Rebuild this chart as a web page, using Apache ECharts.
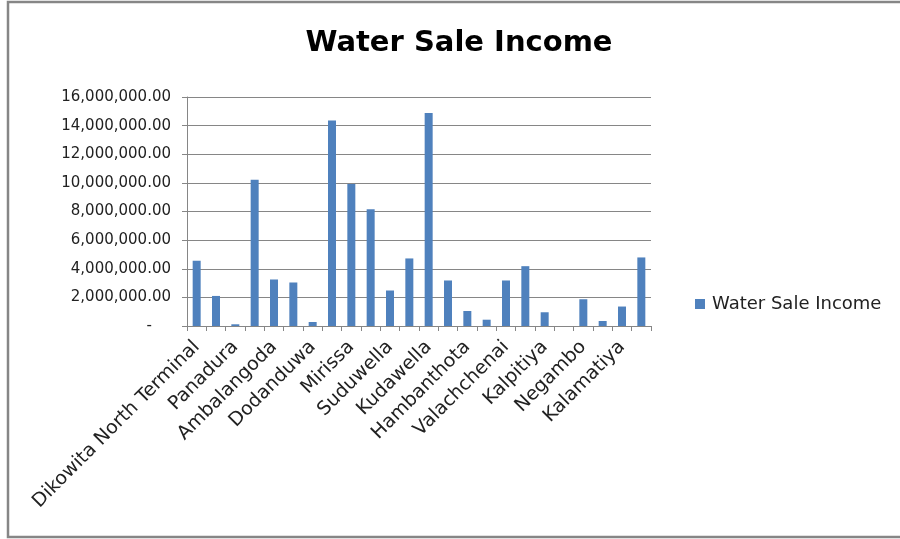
<!DOCTYPE html>
<html>
<head>
<meta charset="utf-8">
<script src="https://cdn.jsdelivr.net/npm/echarts@6/dist/echarts.min.js"></script>
<style>
  html, body { margin: 0; padding: 0; background: #fff; }
  #chart { width: 900px; height: 539px; }
</style>
</head>
<body>
<div id="chart"></div>
<script>
// harbours, only every other name is shown on the axis
const harbours = [
  'Dikowita North Terminal', 'Mutwal', 'Panadura', 'Beruwala',
  'Ambalangoda', 'Hikkaduwa', 'Dodanduwa', 'Galle',
  'Mirissa', 'Puranawella', 'Suduwella', 'Tangalle',
  'Kudawella', 'Nilwella', 'Hambanthota', 'Kirinda',
  'Valachchenai', 'Cod Bay', 'Kalpitiya', 'Chilaw',
  'Negambo', 'Beruwala North', 'Kalamatiya', 'Oluvil',
]
const income = [
  4560000, 2100000, 120000, 10210000,
  3250000, 3040000, 280000, 14350000,
  9930000, 8150000, 2480000, 4720000,
  14880000, 3180000, 1050000, 440000,
  3180000, 4180000, 960000, 0,
  1870000, 350000, 1360000, 4790000,
]
const yTicks = [0, 2000000, 4000000, 6000000, 8000000, 10000000, 12000000, 14000000, 16000000]

// accounting style: zero shows as a dash set in from the right
function money(v) {
  if (v === 0) return '-    '
  return v.toLocaleString('en-US', { minimumFractionDigits: 2, maximumFractionDigits: 2 })
}

const chart = echarts.init(document.getElementById('chart'))
const font = 'DejaVu Sans'

chart.setOption({
  animation: false,
  backgroundColor: '#fff',
  title: {
    text: 'Water Sale Income',
    left: 459,
    textAlign: 'center',
    top: 29,
    padding: 0,
    textStyle: { fontFamily: font, fontWeight: 'bold', fontSize: 29, color: '#000' },
  },
  legend: {
    left: 695,
    top: 295,
    padding: 0,
    itemWidth: 10,
    itemHeight: 10,
    itemGap: 6,
    icon: 'rect',
    itemStyle: { borderWidth: 0 },
    textStyle: { fontFamily: font, fontSize: 18, color: '#222', padding: [0, 0, 0, 2] },
    data: ['Water Sale Income'],
  },
  grid: { left: 187, right: 249, top: 97, bottom: 213, containLabel: false },
  xAxis: {
    type: 'category',
    data: harbours,
    boundaryGap: true,
    axisLine: { lineStyle: { color: '#868686', width: 1 } },
    axisTick: { show: true, interval: 0, length: 5, lineStyle: { color: '#868686' } },
    axisLabel: {
      interval: 1,
      rotate: 45,
      margin: 18,
      fontFamily: font,
      fontSize: 19,
      color: '#222',
    },
  },
  yAxis: {
    type: 'value',
    min: yTicks[0],
    max: yTicks[yTicks.length - 1],
    interval: 2000000,
    axisLine: { show: true, lineStyle: { color: '#868686', width: 1 } },
    axisTick: { show: true, length: 5, lineStyle: { color: '#868686' } },
    splitLine: { lineStyle: { color: '#868686', width: 1 } },
    axisLabel: {
      margin: 16,
      fontFamily: font,
      fontSize: 15,
      color: '#222',
      formatter: money,
    },
  },
  series: [
    {
      name: 'Water Sale Income',
      type: 'bar',
      data: income,
      barWidth: 8,
      itemStyle: { color: '#4f81bd' },
    },
  ],
  graphic: [
    {
      type: 'rect',
      shape: { x: 8, y: 2, width: 900, height: 535 },
      style: { fill: 'none', stroke: '#868686', lineWidth: 2.5 },
      silent: true,
    },
  ],
})
</script>
</body>
</html>
